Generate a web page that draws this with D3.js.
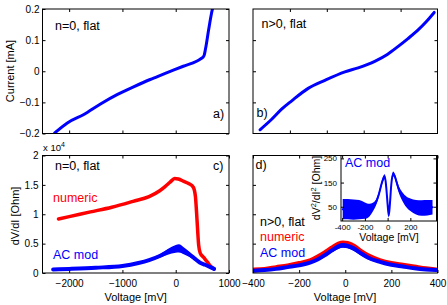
<!DOCTYPE html>
<html>
<head>
<meta charset="utf-8">
<script src="https://cdn.jsdelivr.net/npm/d3@7"></script>
<style>
body { margin: 0; background: #fff; }
svg text { font-family: "Liberation Sans", Arial, sans-serif; fill: #000; }
</style>
</head>
<body>
<svg id="fig" width="447" height="305"></svg>
<script>
'use strict'

// a) I-V curve, n=0
var aVolt = [-2270, -2034, -1724, -1412, -1101, -791, -479, -354, -45, 142, 392, 470, 510, 535, 555, 578, 610, 640, 670, 701, 730];
var aCurr = [-0.198, -0.166, -0.139, -0.105, -0.075, -0.050, -0.0265, -0.018, 0.0034, 0.016, 0.032, 0.040, 0.045, 0.052, 0.068, 0.090, 0.125, 0.156, 0.185, 0.209, 0.235];

// b) I-V curve, n>0
var bVolt = [-462, -400, -345, -290, -201, -110, -2, 70, 160, 230, 287, 340, 395, 440, 482];
var bCurr = [-0.188, -0.155, -0.122, -0.095, -0.055, -0.029, -0.002, 0.011, 0.032, 0.055, 0.080, 0.105, 0.133, 0.160, 0.189];

// c) dV/dI, n=0 (x 10^4 Ohm)
var cNumVolt = [-2200, -2000, -1600, -1200, -800, -500, -300, -200, -100, -20, 50, 150, 250, 330, 370, 390, 410, 430, 460, 520, 600, 660, 720];
var cNumR    = [0.92, 0.96, 1.04, 1.12, 1.22, 1.30, 1.40, 1.47, 1.55, 1.61, 1.60, 1.56, 1.52, 1.46, 1.30, 1.05, 0.75, 0.48, 0.34, 0.27, 0.18, 0.11, 0.07];
var cAcVolt  = [-2300, -2000, -1500, -1000, -700, -500, -300, -150, 0, 60, 150, 250, 350, 450, 550, 650, 720];
var cAcR     = [0.06, 0.07, 0.09, 0.12, 0.17, 0.22, 0.29, 0.36, 0.41, 0.42, 0.38, 0.32, 0.25, 0.18, 0.14, 0.10, 0.07];
var cAcNoise = [0, 0, 0, 0, 0.005, 0.015, 0.03, 0.05, 0.065, 0.07, 0.06, 0.045, 0.03, 0.02, 0.015, 0.01, 0.005];

// d) dV/dI, n>0
var dVolt    = [-395, -350, -300, -250, -200, -150, -120, -90, -60, -30, -10, 10, 40, 70, 100, 150, 200, 250, 300, 350, 395];
var dNumR    = [0.06, 0.07, 0.10, 0.13, 0.17, 0.22, 0.28, 0.35, 0.43, 0.50, 0.52, 0.51, 0.46, 0.37, 0.30, 0.22, 0.17, 0.14, 0.11, 0.08, 0.06];
var dAcR     = [0.04, 0.05, 0.07, 0.10, 0.13, 0.18, 0.23, 0.30, 0.38, 0.45, 0.47, 0.46, 0.41, 0.33, 0.26, 0.19, 0.14, 0.11, 0.08, 0.06, 0.05];
var dAcNoise = [0.01, 0.01, 0.01, 0.01, 0.015, 0.02, 0.025, 0.03, 0.035, 0.04, 0.04, 0.04, 0.04, 0.035, 0.03, 0.02, 0.015, 0.01, 0.01, 0.01, 0.01];

// d) inset, dV2/dI2 AC mod
var insVolt  = [-395, -350, -300, -250, -200, -160, -130, -100, -75, -50, -35, -24, -12, 0, 10, 20, 32, 48, 62, 80, 100, 130, 165, 200, 250, 300, 350, 395];
var insVal   = [40, 40, 38, 38, 34, 36, 48, 70, 105, 150, 170, 174, 130, 60, 14, 60, 140, 186, 178, 150, 120, 92, 70, 58, 48, 45, 46, 48];
var insNoise = [42, 42, 42, 40, 34, 26, 18, 12, 10, 10, 10, 10, 10, 10, 10, 10, 10, 10, 10, 12, 14, 18, 22, 26, 30, 32, 32, 30];

var fmt = function(d){ return String(d).replace('-', '\u2212'); };

var svg = d3.select('#fig');
var clipN = 0;

function panel(p){
  var x = d3.scaleLinear().domain(p.xd).range([p.l, p.r]);
  var y = d3.scaleLinear().domain(p.yd).range([p.b, p.t]);
  var g = svg.append('g');
  if( p.bg ){
    g.append('rect')
      .attr('x', p.l).attr('y', p.t)
      .attr('width', p.r - p.l).attr('height', p.b - p.t)
      .attr('fill', '#fff');
  }
  var id = 'clip' + (clipN++);
  g.append('clipPath').attr('id', id)
    .append('rect')
    .attr('x', p.l).attr('y', p.t)
    .attr('width', p.r - p.l).attr('height', p.b - p.t);
  var plot = g.append('g').attr('clip-path', 'url(#' + id + ')');

  var fs = p.fs || 10;
  var tf = p.tf || fmt;
  var ax = g.append('g').attr('class', 'axes');
  // ticks inward on all four sides, labels only bottom/left
  ax.append('g').attr('transform', 'translate(0,' + p.b + ')')
    .call(d3.axisBottom(x).tickValues(p.xt).tickSize(-3).tickPadding(p.xpad || 7)
      .tickFormat(p.xlab ? tf : ''));
  ax.append('g').attr('transform', 'translate(0,' + p.t + ')')
    .call(d3.axisTop(x).tickValues(p.xt).tickSize(-3).tickFormat(''));
  ax.append('g').attr('transform', 'translate(' + p.l + ',0)')
    .call(d3.axisLeft(y).tickValues(p.yt).tickSize(-3).tickPadding(p.ypad || 4)
      .tickFormat(p.ylab ? tf : ''));
  ax.append('g').attr('transform', 'translate(' + p.r + ',0)')
    .call(d3.axisRight(y).tickValues(p.yt).tickSize(-3).tickFormat(''));
  ax.selectAll('.domain').remove();
  ax.selectAll('.tick line').attr('stroke', '#000');
  ax.selectAll('text').attr('font-size', fs).attr('font-family', '"Liberation Sans", Arial, sans-serif');

  g.append('rect')
    .attr('x', p.l).attr('y', p.t)
    .attr('width', p.r - p.l).attr('height', p.b - p.t)
    .attr('fill', 'none').attr('stroke', '#000').attr('stroke-width', 1);

  return { x: x, y: y, g: g, plot: plot };
}

function curve(pn, xs, ys, color, w){
  var line = d3.line()
    .x(function(d, i){ return pn.x(xs[i]); })
    .y(function(d, i){ return pn.y(ys[i]); })
    .curve(d3.curveMonotoneX);
  pn.plot.append('path')
    .attr('d', line(xs))
    .attr('fill', 'none')
    .attr('stroke', color)
    .attr('stroke-width', w)
    .attr('stroke-linejoin', 'round')
    .attr('stroke-linecap', 'round');
}

function band(pn, xs, ys, hs, color){
  var area = d3.area()
    .x(function(d, i){ return pn.x(xs[i]); })
    .y0(function(d, i){ return pn.y(ys[i] - hs[i]); })
    .y1(function(d, i){ return pn.y(ys[i] + hs[i]); })
    .curve(d3.curveMonotoneX);
  pn.plot.append('path')
    .attr('d', area(xs))
    .attr('fill', color)
    .attr('stroke', 'none');
}

function label(txt, x, y, size, color, anchor){
  return svg.append('text')
    .attr('x', x).attr('y', y)
    .attr('font-size', size)
    .attr('text-anchor', anchor || 'start')
    .style('fill', color || '#000')
    .text(txt);
}

var pa = panel({ l: 42.5, r: 229, t: 9, b: 133.5, xd: [-2500, 1000], yd: [-0.2, 0.2],
  xt: [-2000, -1000, 0], yt: [-0.2, -0.1, 0, 0.1, 0.2], ylab: true, ypad: 3 });
curve(pa, aVolt, aCurr, '#0000ff', 3);

var pb = panel({ l: 253, r: 437.5, t: 9, b: 133.5, xd: [-500, 500], yd: [-0.2, 0.2],
  xt: [-300, -100, 100, 300], yt: [-0.1, 0, 0.1] });
curve(pb, bVolt, bCurr, '#0000ff', 3);

var pc = panel({ l: 42.5, r: 229, t: 155.5, b: 273, xd: [-2500, 1000], yd: [0, 2],
  xt: [-2000, -1000, 0, 1000], yt: [0, 0.5, 1, 1.5, 2], xlab: true, ylab: true });
curve(pc, cNumVolt, cNumR, '#ff0000', 3.5);
band(pc, cAcVolt, cAcR, cAcNoise, '#0000ff');
curve(pc, cAcVolt, cAcR, '#0000ff', 4);

var pd = panel({ l: 253, r: 437.5, t: 155.5, b: 273, xd: [-400, 400], yd: [0, 2],
  xt: [-400, -200, 0, 200, 400], yt: [0.5, 1, 1.5], xlab: true });
curve(pd, dVolt, dNumR, '#ff0000', 4);
band(pd, dVolt, dAcR, dAcNoise, '#0000ff');
curve(pd, dVolt, dAcR, '#0000ff', 4);

var pi = panel({ l: 341, r: 436.5, t: 155.5, b: 221, xd: [-410, 430], yd: [-9, 262],
  xt: [-400, -200, 0, 200], yt: [50, 150, 250], xlab: true, ylab: true, bg: true,
  fs: 8, xpad: 3, ypad: 4, tf: function(d){ return String(d); } });
band(pi, insVolt, insVal, insNoise, '#0000ff');
curve(pi, insVolt, insVal, '#0000ff', 2);

// axis labels
svg.append('text').attr('transform', 'translate(14,71) rotate(-90)')
  .attr('text-anchor', 'middle').attr('font-size', 11).text('Current [mA]');
svg.append('text').attr('transform', 'translate(18.5,216) rotate(-90)')
  .attr('text-anchor', 'middle').attr('font-size', 11).text('dV/dI [Ohm]');
label('Voltage [mV]', 135.7, 301, 11, '#000', 'middle');
label('Voltage [mV]', 345, 301, 11, '#000', 'middle');
label('Voltage [mV]', 389, 241, 10.5, '#000', 'middle');

var yl = svg.append('text').attr('transform', 'translate(319.5,188) rotate(-90)')
  .attr('text-anchor', 'middle').attr('font-size', 10.5);
yl.append('tspan').text('dV');
yl.append('tspan').attr('dy', -4).attr('font-size', 7.5).text('2');
yl.append('tspan').attr('dy', 4).text('/dI');
yl.append('tspan').attr('dy', -4).attr('font-size', 7.5).text('2');
yl.append('tspan').attr('dy', 4).text(' [Ohm]');

var ex = label('x 10', 43, 151, 9.5);
ex.append('tspan').attr('dy', -4).attr('font-size', 7).text('4');

// annotations
label('n=0, flat', 55, 30, 12.5);
label('a)', 213, 118, 12.5);
label('n>0, flat', 261.5, 28, 12.5);
label('b)', 256.5, 117, 12.5);
label('n=0, flat', 55, 170, 12.5);
label('c)', 213, 169.5, 12.5);
label('numeric', 53, 201.5, 12.5, '#ff0000');
label('AC mod', 53, 258.5, 12.5, '#0000ff');
label('d)', 255.5, 169, 12.5);
label('n>0, flat', 260, 225.5, 12.5);
label('numeric', 260, 241, 12.5, '#ff0000');
label('AC mod', 260, 256.5, 12.5, '#0000ff');
label('AC mod', 345, 167, 12.5, '#0000ff');
</script>
</body>
</html>
